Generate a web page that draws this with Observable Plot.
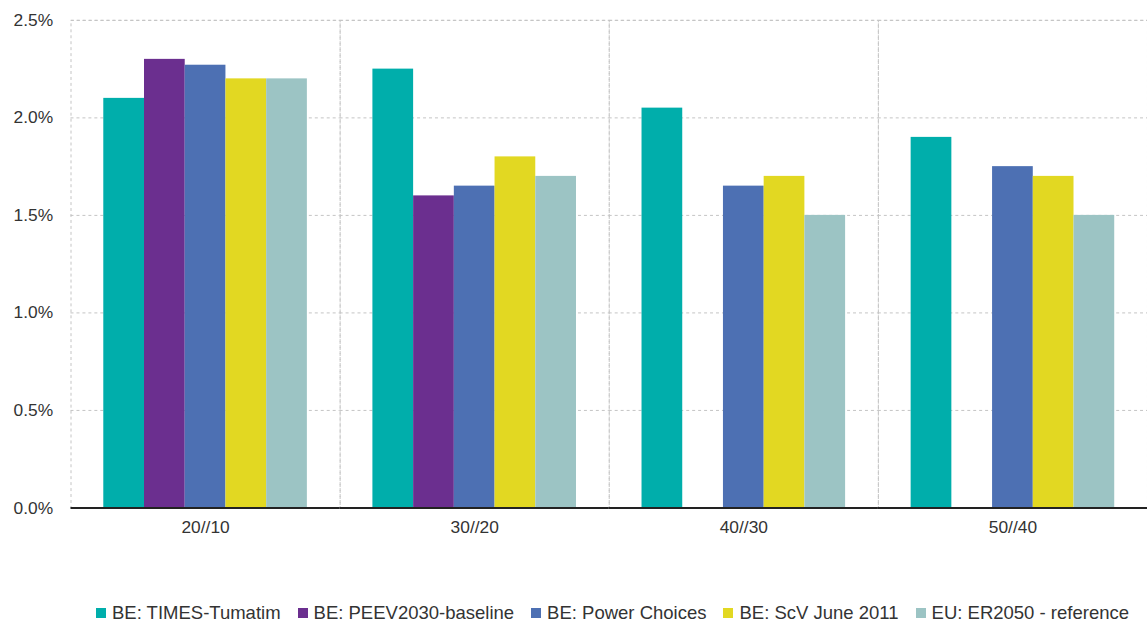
<!DOCTYPE html>
<html>
<head>
<meta charset="utf-8">
<script src="https://cdn.jsdelivr.net/npm/d3@7"></script>
<script src="https://cdn.jsdelivr.net/npm/@observablehq/plot@0.6"></script>
<style>
  html, body { margin: 0; padding: 0; background: #fff; overflow: hidden; }
  body { font-family: "Liberation Sans", Arial, sans-serif; color: #333; width: 1147px; }
  #chart svg { display: block; }
  #chart svg text { font-family: "Liberation Sans", Arial, sans-serif; fill: #333; }
  #chart svg [aria-label^="y-axis"] text { font-size: 17.5px; }
  #chart svg [aria-label^="fx-axis"] text { font-size: 17.5px; }
  #legend { display: flex; justify-content: center; gap: 17px; margin-left: 70px; width: 1085px;
            margin-top: 46px; font-size: 18.5px; color: #333; white-space: nowrap; }
  .item { display: flex; align-items: center; gap: 6px; }
  .sw { width: 10px; height: 10px; display: inline-block; }
</style>
</head>
<body>
<div id="chart"></div>
<div id="legend"></div>
<script>
const categories = ["20//10", "30//20", "40//30", "50//40"];
const series = ["BE: TIMES-Tumatim", "BE: PEEV2030-baseline", "BE: Power Choices", "BE: ScV June 2011", "EU: ER2050 - reference"];
const colors = ["#00aeab", "#6b2f8f", "#4d70b3", "#e2d822", "#9cc4c4"];
const timesTumatim = [2.10, 2.25, 2.05, 1.90];
const peev2030 = [2.30, 1.60, null, null];
const powerChoices = [2.27, 1.65, 1.65, 1.75];
const scvJune2011 = [2.20, 1.80, 1.70, 1.70];
const er2050 = [2.20, 1.70, 1.50, 1.50];
const yTicks = [0, 0.5, 1.0, 1.5, 2.0, 2.5];

const seriesValues = [timesTumatim, peev2030, powerChoices, scvJune2011, er2050];
const rows = [];
categories.forEach((c, i) => {
  series.forEach((s, j) => {
    const v = seriesValues[j][i];
    if (v != null) rows.push({category: c, series: s, value: v});
  });
});

const chart = Plot.plot({
  width: 1155,
  height: 560,
  marginTop: 20,
  marginBottom: 49,
  marginLeft: 70,
  marginRight: 0,
  style: {fontFamily: '"Liberation Sans", Arial, sans-serif', fontSize: "16px", color: "#333", background: "#fff"},
  fx: {domain: categories, padding: 0, axis: "bottom", tickSize: 0, tickPadding: 13, label: null},
  x: {domain: series, axis: null, paddingInner: 0, paddingOuter: 0.73},
  y: {domain: [0, 2.5], ticks: yTicks, tickFormat: d => d.toFixed(1) + "%", tickSize: 0, tickPadding: 18, label: null},
  color: {domain: series, range: colors},
  marks: [
    Plot.ruleY(yTicks, {stroke: "#c4c4c4", strokeDasharray: "3,3"}),
    Plot.frame({stroke: "#c4c4c4", strokeDasharray: "3,3"}),
    Plot.barY(rows, {fx: "category", x: "series", y: "value", fill: "series"}),
    Plot.ruleY([0], {stroke: "#222", strokeWidth: 2})
  ]
});
document.getElementById("chart").appendChild(chart);

const legend = document.getElementById("legend");
series.forEach((s, i) => {
  const item = document.createElement("div");
  item.className = "item";
  const sw = document.createElement("span");
  sw.className = "sw";
  sw.style.background = colors[i];
  const t = document.createElement("span");
  t.textContent = s;
  item.appendChild(sw);
  item.appendChild(t);
  legend.appendChild(item);
});
</script>
</body>
</html>
